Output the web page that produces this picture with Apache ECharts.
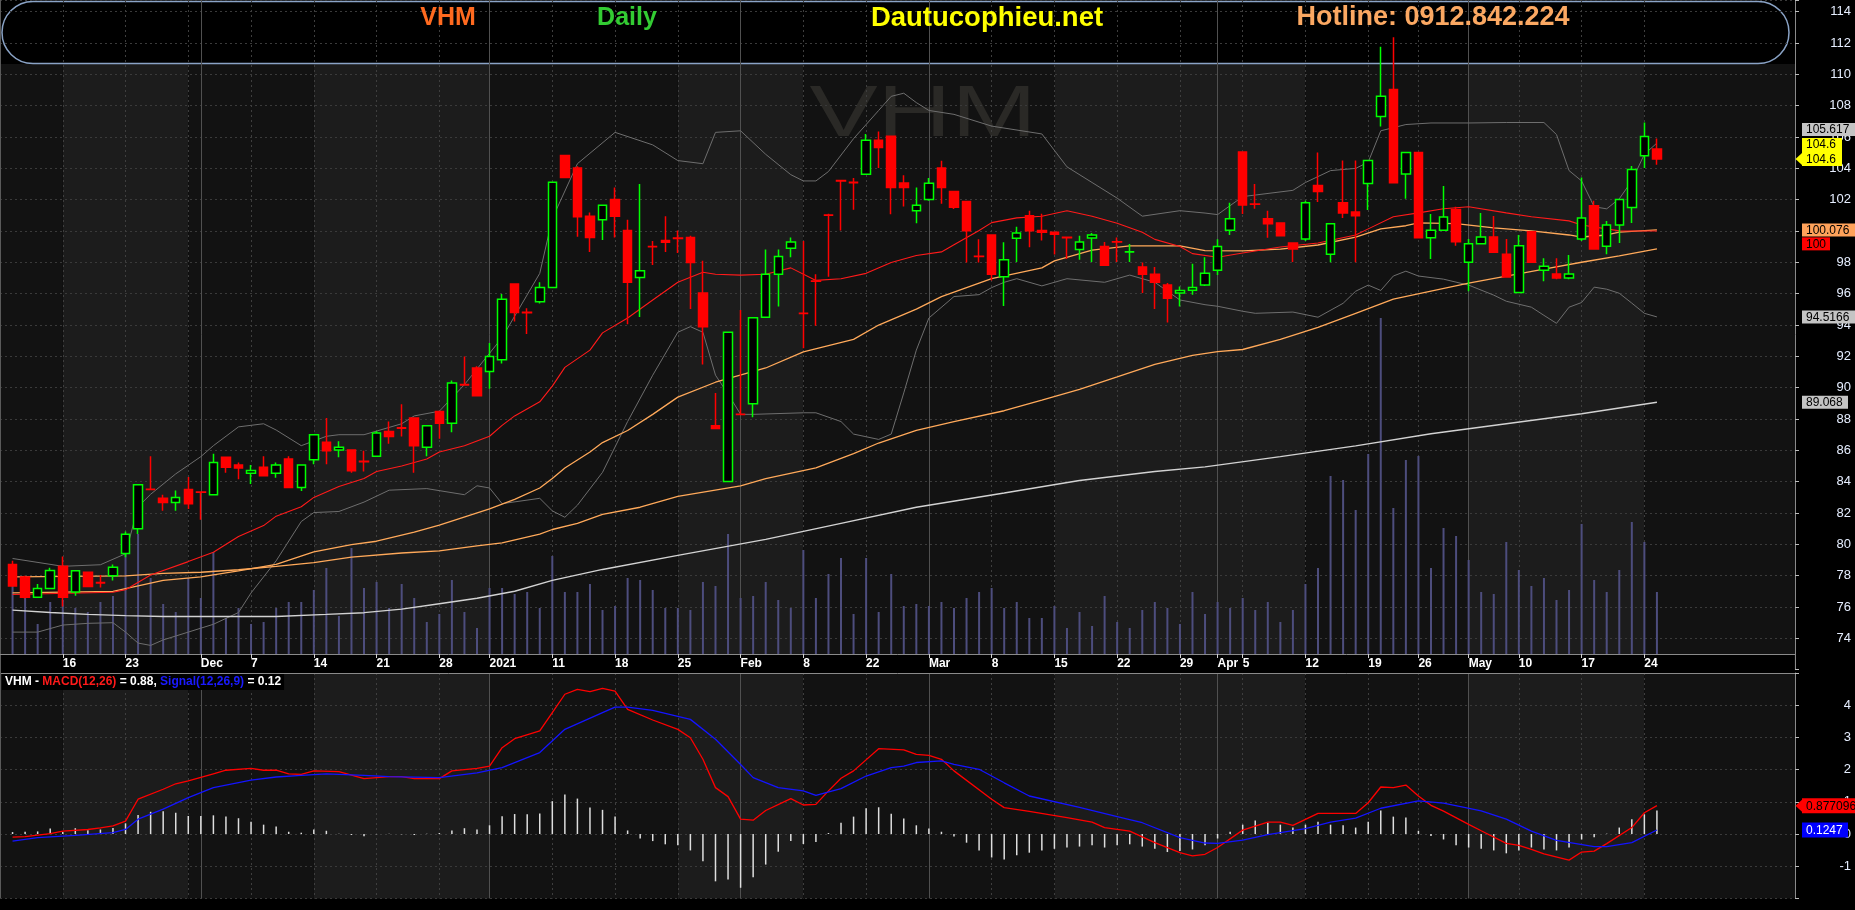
<!DOCTYPE html>
<html><head><meta charset="utf-8">
<script src="https://cdn.jsdelivr.net/npm/echarts@6/dist/echarts.min.js"></script>
<style>html,body{margin:0;padding:0;background:#000;}#c{width:1855px;height:910px;}</style>
</head><body><div id="c"></div>
<script>
// ---------- categories (trading days) ----------
const tradingDays = [
  ['2020-11', [10,11,12,13,16,17,18,19,20,23,24,25,26,27,30]],
  ['2020-12', [1,2,3,4,7,8,9,10,11,14,15,16,17,18,21,22,23,24,25,28,29,30,31]],
  ['2021-01', [4,5,6,7,8,11,12,13,14,15,18,19,20,21,22,25,26,27,28,29]],
  ['2021-02', [1,2,3,4,5,8,9,17,18,19,22,23,24,25,26]],
  ['2021-03', [1,2,3,4,5,8,9,10,11,12,15,16,17,18,19,22,23,24,25,26,29,30,31]],
  ['2021-04', [1,2,5,6,7,8,9,12,13,14,15,16,19,20,22,23,26,27,28,29]],
  ['2021-05', [4,5,6,7,10,11,12,13,14,17,18,19,20,21,24,25]]
];
// ---------- OHLC [open, close, low, high] ----------
const ohlc = [
[78.72,77.35,77.3,78.95],[77.92,76.62,76.55,78.0],[76.62,77.19,76.62,77.47],[77.19,78.33,77.19,78.5],[78.61,76.62,76.03,79.22],
[76.96,78.31,76.72,78.31],[78.22,77.31,77.31,78.22],[77.56,77.54,77.24,78.04],[77.99,78.54,77.7,78.72],[79.41,80.64,79.18,80.82],
[81.0,83.81,80.66,83.81],[83.52,83.5,83.5,85.63],[82.94,82.67,82.14,83.17],[82.67,82.99,82.14,83.44],[83.51,82.6,82.26,84.3],
[83.34,83.32,81.57,83.34],[83.17,85.22,83.17,85.79],[85.56,84.92,84.58,85.56],[85.06,84.88,84.15,85.22],[84.54,84.72,83.85,85.06],
[84.92,84.38,84.38,85.63],[84.54,85.06,84.26,85.22],[85.45,83.63,83.63,85.63],[83.63,85.06,83.4,85.06],[85.4,87.0,85.11,87.0],
[86.52,85.97,85.11,88.07],[86.02,86.2,85.56,86.59],[86.02,84.7,84.58,86.02],[85.3,85.28,84.65,85.97],[85.63,87.11,85.63,87.23],
[87.2,86.89,86.43,87.85],[87.44,87.42,86.89,88.94],[88.07,86.29,84.58,88.07],[86.2,87.57,85.63,87.57],[88.48,87.73,86.75,88.48],
[87.73,90.3,87.16,90.46],[90.2,90.18,90.18,91.99],[91.26,89.48,89.48,91.37],[91.03,91.99,89.94,92.86],[91.79,95.64,91.54,95.98],
[96.62,94.8,94.23,96.62],[94.81,94.79,93.43,95.07],[95.48,96.39,95.37,96.73],[96.39,103.12,96.39,103.12],[104.83,103.42,103.42,104.83],
[104.03,100.91,99.63,104.14],[100.95,99.59,98.67,101.18],[100.73,101.64,99.43,101.64],[102.02,100.95,99.59,102.78],[100.04,96.73,94.05,100.73],
[97.03,97.46,94.52,103.0],[99.02,99.0,97.83,99.36],[99.4,99.29,98.67,100.95],[99.55,99.53,98.6,100.04],[99.59,97.99,95.03,99.7],
[96.05,93.89,91.49,98.1],[87.57,87.39,87.39,89.67],[84.01,93.54,84.01,93.54],[88.31,88.29,88.29,94.96],[88.98,94.46,88.12,94.46],
[94.5,97.24,94.5,98.83],[97.24,98.38,95.19,98.83],[98.9,99.31,98.33,99.59],[94.76,94.74,92.52,99.36],[96.81,96.79,93.95,97.24],
[101.03,101.01,97.08,101.11],[103.22,103.2,100.04,103.22],[103.11,103.09,101.36,103.39],[103.62,105.79,103.62,106.2],[105.79,105.33,104.03,106.36],
[106.06,102.78,101.07,106.06],[103.07,102.78,101.57,103.57],[101.3,101.64,100.5,102.78],[102.02,103.05,101.93,103.39],[104.03,102.78,101.75,104.49],
[102.53,101.52,101.41,102.53],[101.89,100.02,97.99,101.89],[98.39,98.37,97.99,99.47],[99.75,97.24,96.85,99.75],[97.08,98.17,95.21,99.29],
[99.54,99.88,98.03,100.27],[100.98,100.02,98.97,101.3],[100.04,99.93,99.4,101.11],[99.93,99.79,98.51,99.93],[99.6,99.58,98.22,99.6],
[98.83,99.31,98.17,99.7],[99.56,99.75,98.03,99.88],[99.01,97.81,97.81,99.31],[99.32,99.3,98.03,99.59],[98.66,98.68,98.03,99.17],
[97.7,97.24,96.05,97.99],[97.24,96.73,95.03,97.7],[96.55,95.71,94.16,96.69],[96.05,96.21,95.19,96.46],[96.23,96.39,95.94,97.92],
[96.55,97.3,96.5,98.33],[97.5,99.02,97.19,99.47],[100.06,100.78,99.75,101.8],[105.04,101.67,101.09,105.04],[101.73,101.71,101.42,103.01],
[100.78,100.47,99.57,101.29],[100.52,99.7,99.7,100.52],[99.24,98.85,98.03,99.24],[99.5,101.8,99.37,101.93],[102.91,102.52,101.85,105.01],
[98.52,100.47,98.01,100.47],[101.8,101.16,100.83,104.5],[101.21,100.98,98.01,104.5],[103.03,104.5,101.34,104.5],[107.32,108.6,106.68,111.76],
[109.04,103.09,103.09,112.37],[103.65,105.01,102.06,105.01],[105.01,99.57,99.57,105.01],[99.57,100.06,98.21,101.09],[100.06,100.9,100.06,102.88],
[101.37,99.32,99.06,101.55],[98.01,99.19,96.16,99.5],[99.19,99.62,99.19,101.16],[99.62,98.65,98.65,100.96],[98.52,97.06,97.06,99.5],
[96.08,99.06,96.08,99.75],[99.96,98.01,98.01,99.96],[97.5,97.75,96.8,98.26],[97.26,97.0,96.93,98.26],[97.0,97.26,96.93,98.47],
[99.5,100.83,99.37,103.42],[101.62,98.85,98.85,101.93],[99.03,100.39,98.52,100.65],[100.39,102.01,99.24,102.01],[101.5,103.93,100.52,104.16],
[104.8,106.04,104.03,106.93],[105.24,104.6,104.24,105.91]
];
// ---------- volume (millions) ----------
const volume = [
3.4,2.9,1.5,2.6,2.7,2.3,2.1,2.6,2.9,5.0, 6.0,3.8,2.5,2.1,3.8,2.8,5.1,1.8,2.3,1.5,
1.6,2.3,2.6,2.6,3.2,4.3,1.9,5.3,3.3,3.6, 2.3,3.5,2.8,1.6,2.0,3.7,2.1,1.3,3.3,3.3,
3.0,3.1,2.3,4.9,3.1,3.1,3.5,2.2,2.4,3.8, 3.7,3.2,2.3,2.3,2.2,3.6,3.4,6.0,2.8,2.9,
3.6,2.7,2.3,5.2,2.8,4.0,4.8,2.0,4.8,2.1, 4.0,2.4,2.5,2.4,2.6,2.3,2.8,3.1,3.3,2.3,
2.6,1.8,1.8,2.4,1.3,2.1,1.4,2.9,1.6,1.3, 2.2,2.6,2.3,1.5,3.1,2.0,2.6,2.3,2.8,2.2,
2.6,1.6,2.2,3.5,4.3,8.9,8.7,7.2,10.0,16.8, 7.3,9.7,9.9,4.3,6.3,5.9,4.7,3.1,3.0,5.6,
4.2,3.4,3.8,2.7,3.2,6.5,3.7,3.1,4.2,6.6, 5.6,3.1
];
// ---------- overlay lines [dayIndex, value] ----------
const bbUpper = [[0,79.1],[4,78.6],[7,78.7],[9,79.4],[10,82.4],[11,83.2],[13,84.5],[15,85.6],[16,86.3],[18,87.5],[20,87.7],[21,87.3],[23,86.3],[25,86.9],[26,87.0],[28,87.0],[31,87.7],[32,88.2],[34,88.5],[36,90.2],[39,93.2],[42,97.3],[43,100.8],[45,104.3],[48,106.3],[51,105.5],[53,104.5],[55,104.3],[56,106.3],[58,106.4],[60,104.9],[62,103.6],[63,103.2],[64,103.2],[65,103.8],[67,105.9],[69,107.7],[70,108.6],[71,108.8],[72,108.2],[73,107.7],[75,107.45],[78,106.7],[82,106.2],[84,104.1],[86,103.1],[88,102.1],[90,100.95],[93,101.3],[95,101.15],[96,101.05],[98,102.2],[99,102.3],[102,102.6],[103,103.1],[105,103.86],[107,104.0],[108,104.4],[109,106.4],[111,106.8],[113,106.9],[116,106.9],[119,106.93],[122,106.93],[123,106.16],[124,103.86],[125,103.2],[126,101.55],[127,101.42],[128,102.06],[129,103.2],[130,104.9],[131,105.62]];
const bbLower = [[0,74.4],[2,74.4],[4,74.85],[6,74.96],[8,75.0],[9,74.4],[10,73.7],[11,73.55],[12,73.9],[14,74.4],[16,74.9],[18,75.65],[19,76.9],[21,78.95],[23,81.46],[24,82.03],[26,82.1],[28,82.7],[30,83.46],[33,83.56],[36,83.17],[37,83.74],[38,83.6],[39,82.6],[42,82.94],[43,82.14],[44,81.73],[45,82.5],[47,84.6],[49,87.84],[51,90.8],[53,93.54],[54,93.9],[55,93.54],[56,90.8],[57,89.6],[58,88.3],[59,88.3],[63,88.4],[64,88.4],[66,87.84],[67,87.04],[69,86.7],[70,87.04],[71,89.67],[72,92.4],[73,94.45],[75,95.82],[77,95.94],[78,96.39],[79,96.73],[80,96.96],[82,96.5],[84,96.96],[87,96.73],[89,97.19],[91,96.73],[93,95.6],[95,95.3],[96,95.2],[98,94.88],[99,94.75],[102,94.83],[104,94.5],[106,95.39],[107,96.16],[108,96.55],[109,96.21],[110,97.13],[111,97.44],[112,97.13],[114,96.93],[116,96.55],[118,95.91],[119,95.52],[121,95.14],[122,94.62],[123,94.11],[124,95.14],[125,95.44],[126,96.42],[127,96.29],[128,96.03],[129,95.4],[130,94.75],[131,94.52]];
const maRed = [[0,76.8],[8,76.94],[9,77.1],[11,78.04],[14,78.9],[16,79.5],[18,80.5],[20,81.2],[21,81.8],[23,82.4],[24,83.0],[26,83.7],[28,84.2],[29,84.65],[31,85.0],[33,85.45],[34,85.9],[36,86.3],[37,86.6],[38,86.9],[39,87.6],[40,88.2],[42,89.1],[43,90.1],[44,91.3],[46,92.4],[47,93.5],[49,94.45],[51,95.6],[53,96.73],[55,97.37],[56,97.24],[58,97.19],[60,97.24],[62,97.65],[64,96.85],[66,96.96],[68,97.3],[70,97.99],[72,98.44],[74,98.67],[75,99.13],[77,100.04],[78,100.54],[80,100.84],[82,100.95],[84,101.3],[86,100.95],[88,100.5],[90,99.93],[91,99.47],[93,99.01],[94,98.56],[96,98.33],[98,98.6],[101,98.98],[104,99.24],[107,99.75],[108,100.14],[110,100.91],[112,101.16],[114,101.42],[116,101.55],[119,101.16],[121,100.91],[124,100.65],[125,100.39],[127,100.14],[128,100.01],[131,100.0]];
const maOrangeFast = [[0,76.9],[8,77.0],[12,77.7],[15,77.93],[18,78.31],[21,78.72],[24,79.52],[27,79.98],[29,80.2],[32,80.78],[34,81.23],[38,82.26],[40,82.87],[42,83.6],[43,84.2],[44,84.88],[46,85.9],[47,86.5],[49,87.27],[51,88.3],[53,89.4],[56,90.35],[60,91.26],[63,92.29],[67,93.09],[69,94.0],[72,95.02],[74,95.82],[76,96.39],[78,96.96],[82,97.65],[83,98.1],[86,98.79],[89,99.06],[93,99.06],[95,98.75],[98,98.73],[101,98.85],[104,99.11],[107,99.62],[109,100.14],[111,100.34],[112,100.52],[115,100.47],[118,100.21],[121,100.01],[124,99.75],[125,99.62],[127,99.75],[128,99.93],[131,100.08]];
const maOrangeSlow = [[0,77.92],[9,77.99],[12,78.15],[15,78.22],[18,78.38],[21,78.6],[24,78.83],[27,79.18],[31,79.45],[34,79.59],[37,79.9],[39,80.09],[42,80.66],[43,80.95],[45,81.34],[47,81.91],[50,82.37],[53,83.06],[58,83.74],[60,84.2],[64,84.88],[67,85.79],[69,86.47],[72,87.27],[75,87.84],[79,88.53],[82,89.21],[85,89.9],[88,90.69],[91,91.49],[94,92.06],[96,92.3],[98,92.44],[101,93.08],[104,93.85],[107,94.75],[110,95.65],[113,96.16],[116,96.67],[119,97.13],[122,97.57],[125,98.01],[128,98.42],[131,98.86]];
const maWhite = [[0,75.8],[3,75.65],[6,75.53],[9,75.45],[12,75.4],[21,75.4],[25,75.53],[28,75.64],[31,75.87],[34,76.21],[37,76.56],[40,77.01],[43,77.7],[47,78.4],[53,79.3],[60,80.32],[66,81.34],[72,82.37],[79,83.28],[85,84.08],[91,84.65],[95,84.95],[101,85.6],[107,86.29],[113,87.06],[119,87.7],[125,88.34],[131,89.07]];
// ---------- MACD ----------
const macdLine = [[0,-0.1],[1,-0.08],[3,0.01],[4,0.09],[6,0.14],[7,0.19],[8,0.25],[9,0.40],[10,1.08],[12,1.39],[13,1.56],[14,1.65],[16,1.87],[17,1.98],[19,2.04],[20,1.98],[21,1.98],[22,1.87],[23,1.85],[24,1.96],[26,1.94],[28,1.72],[30,1.78],[31,1.78],[32,1.72],[34,1.72],[35,1.96],[37,2.04],[38,2.11],[39,2.68],[40,2.96],[42,3.2],[43,3.77],[44,4.34],[45,4.49],[46,4.42],[47,4.52],[48,4.44],[49,3.87],[51,3.54],[53,3.25],[54,2.99],[55,2.32],[56,1.44],[57,1.16],[58,0.46],[59,0.43],[60,0.73],[62,1.10],[63,0.90],[64,0.92],[65,1.34],[66,1.73],[67,1.96],[69,2.65],[71,2.61],[72,2.47],[73,2.44],[74,2.32],[75,1.96],[78,1.08],[79,0.82],[81,0.70],[84,0.51],[86,0.37],[87,0.20],[89,0.09],[91,-0.27],[93,-0.58],[94,-0.68],[95,-0.63],[96,-0.42],[98,0.12],[100,0.37],[101,0.37],[102,0.27],[104,0.64],[106,0.64],[107,0.64],[108,0.97],[109,1.46],[110,1.44],[111,1.52],[112,1.18],[113,0.89],[114,0.71],[116,0.30],[117,0.10],[119,-0.29],[120,-0.35],[121,-0.48],[122,-0.62],[124,-0.81],[125,-0.56],[126,-0.53],[127,-0.3],[129,0.20],[130,0.66],[131,0.88]];
const signalLine = [[0,-0.22],[2,-0.11],[5,-0.04],[8,0.04],[9,0.14],[10,0.46],[12,0.77],[14,1.13],[16,1.44],[19,1.67],[21,1.77],[23,1.82],[25,1.87],[28,1.82],[30,1.78],[34,1.75],[37,1.90],[39,2.06],[42,2.53],[44,3.25],[47,3.77],[48,3.94],[49,3.94],[51,3.84],[54,3.56],[56,2.94],[58,2.16],[59,1.75],[61,1.44],[63,1.34],[64,1.20],[66,1.41],[68,1.80],[70,2.06],[71,2.11],[72,2.22],[74,2.27],[75,2.16],[77,2.01],[79,1.59],[81,1.18],[85,0.83],[88,0.54],[90,0.35],[93,-0.11],[95,-0.28],[96,-0.29],[98,-0.19],[100,-0.02],[103,0.17],[105,0.37],[107,0.49],[109,0.80],[112,1.03],[114,0.96],[117,0.72],[119,0.46],[121,0.09],[123,-0.2],[126,-0.39],[127,-0.39],[129,-0.27],[131,0.125]];
const macdHist = [
0.06,0.07,0.08,0.17,0.06,0.18,0.12,0.14,0.19,0.33, 0.59,0.69,0.71,0.66,0.56,0.56,0.58,0.54,0.49,0.38,
0.29,0.23,0.07,0.04,0.14,0.10,0.01,-0.03,-0.07,-0.01, 0.01,-0.01,-0.03,0.01,0.03,0.11,0.18,0.14,0.27,0.55,
0.62,0.61,0.64,1.02,1.23,1.10,0.82,0.75,0.54,0.11, -0.14,-0.22,-0.32,-0.35,-0.51,-0.85,-1.47,-1.41,-1.67,-1.34,
-0.95,-0.55,-0.22,-0.31,-0.25,0.03,0.35,0.54,0.80,0.83, 0.63,0.48,0.27,0.17,0.07,-0.08,-0.27,-0.51,-0.73,-0.79,
-0.66,-0.58,-0.51,-0.46,-0.42,-0.39,-0.35,-0.42,-0.35,-0.32, -0.39,-0.46,-0.56,-0.53,-0.48,-0.35,-0.14,0.07,0.29,0.42,
0.35,0.29,0.20,0.29,0.38,0.29,0.27,0.20,0.38,0.73, 0.54,0.51,0.10,-0.06,-0.17,-0.35,-0.42,-0.46,-0.51,-0.60,
-0.51,-0.42,-0.48,-0.51,-0.42,-0.17,-0.10,0.01,0.20,0.46, 0.61,0.73
];
// ---------- axis tick labels, grid lines, shading ----------
const tickLabels = [['2020-11-16','16'],['2020-11-23','23'],['2020-12-01','Dec'],['2020-12-07','7'],['2020-12-14','14'],['2020-12-21','21'],['2020-12-28','28'],['2021-01-04','2021'],['2021-01-11','11'],['2021-01-18','18'],['2021-01-25','25'],['2021-02-01','Feb'],['2021-02-08','8'],['2021-02-22','22'],['2021-03-01','Mar'],['2021-03-08','8'],['2021-03-15','15'],['2021-03-22','22'],['2021-03-29','29'],['2021-04-01','Apr'],['2021-04-05','5'],['2021-04-12','12'],['2021-04-19','19'],['2021-04-26','26'],['2021-05-04','May'],['2021-05-10','10'],['2021-05-17','17'],['2021-05-24','24']];
const weekStarts = ['2020-11-16','2020-11-23','2020-11-30','2020-12-07','2020-12-14','2020-12-21','2020-12-28','2021-01-11','2021-01-18','2021-01-25','2021-02-08','2021-02-22','2021-03-08','2021-03-15','2021-03-22','2021-03-29','2021-04-05','2021-04-12','2021-04-19','2021-04-26','2021-05-10','2021-05-17','2021-05-24'];
const monthStarts = ['2020-12-01','2021-01-04','2021-02-01','2021-03-01','2021-04-01','2021-05-04'];
const shadeToggles = ['2020-11-16','2020-11-30','2020-12-14','2021-01-04','2021-01-25','2021-02-08','2021-03-15','2021-04-12','2021-05-04','2021-05-24'];
const priceTags = { upper: 105.617, last: 104.6, mid: 100.076, red: 100, lower: 94.5166, white: 89.068 };
const macdTags = { macd: 0.877096, signal: 0.1247 };

// ---------- build ----------
const F = "'Liberation Sans', Arial, sans-serif";
const dates = [];
tradingDays.forEach(([m, days]) => days.forEach(d => dates.push(m + '-' + String(d).padStart(2, '0'))));
const PAD = 11;
const cats = ['start'].concat(dates);
for (let k = 0; k < PAD; k++) cats.push('pad' + k);
const ci = d => dates.indexOf(d) + 1;
const labelMap = {}; tickLabels.forEach(([d, t]) => { labelMap[ci(d)] = t; });
const monthSet = new Set(monthStarts.map(ci));
const weekSet = new Set(weekStarts.map(ci).filter(i => !monthSet.has(i)));
const shadeSet = new Set([0, cats.length - 1].concat(shadeToggles.map(ci)));
const SHADES = ['#121212', '#1c1c1c'];

const G_LEFT = -5.4, G_W = 1800.4;
const grids = [
  { left: G_LEFT, width: G_W, top: 0, height: 669.7, show: false },
  { left: G_LEFT, width: G_W, top: 0, height: 654, show: false },
  { left: G_LEFT, width: G_W, top: 673, height: 225.4, show: false }
];
function hiddenCat(gridIndex, extra) {
  return Object.assign({ type: 'category', gridIndex, data: cats, boundaryGap: false,
    axisLine: { show: false }, axisTick: { show: false }, axisLabel: { show: false }, splitLine: { show: false } }, extra);
}
function shadeAxis(g) { return hiddenCat(g, { z: 0, position: 'bottom', splitArea: { show: true, interval: i => shadeSet.has(i), areaStyle: { color: SHADES } } }); }
function weekAxis(g) { return hiddenCat(g, { z: 2, position: 'top', splitLine: { show: true, interval: i => weekSet.has(i), lineStyle: { color: '#3e3e3e', width: 1, type: [2, 3] } } }); }
function monthAxis(g, topLine) { return hiddenCat(g, { z: 2, position: 'top', axisLine: { show: !!topLine, lineStyle: { color: '#8a8a8a', width: 1 } }, splitLine: { show: true, interval: i => monthSet.has(i), lineStyle: { color: '#505050', width: 1 } } }); }

const xAxes = [
  shadeAxis(0), weekAxis(0), monthAxis(0, false),
  { type: 'category', gridIndex: 1, data: cats, boundaryGap: false, z: 10, position: 'bottom',
    axisLine: { show: true, lineStyle: { color: '#8a8a8a', width: 1 } },
    axisTick: { show: true, interval: i => labelMap[i] !== undefined, length: 4, lineStyle: { color: '#d0d0d0' } },
    axisLabel: { show: true, interval: i => labelMap[i] !== undefined, formatter: (v, i) => labelMap[i] || '', align: 'left',
      color: '#ffffff', fontWeight: 'bold', fontSize: 12, fontFamily: F, margin: 4 },
    splitLine: { show: false } },
  shadeAxis(2), weekAxis(2), monthAxis(2, true)
];
const axisLab = { color: '#e6eeff', fontSize: 13, fontFamily: F, align: 'right', margin: 56 };
const yAxes = [
  { type: 'value', gridIndex: 0, position: 'right', min: 72, max: 114.75, interval: 2, z: 2,
    axisLine: { show: true, lineStyle: { color: '#8a8a8a' } }, axisTick: { show: true, length: 4, lineStyle: { color: '#bdbdbd' } },
    axisLabel: Object.assign({}, axisLab, { formatter: v => (v >= 74 && v <= 114 && Math.abs(v % 2) < 1e-6) ? String(v) : '' }),
    splitLine: { show: true, lineStyle: { color: '#3a3a3a', type: [2, 3] } } },
  { type: 'value', gridIndex: 1, min: 0, max: 32.7, show: false },
  { type: 'value', gridIndex: 2, position: 'right', min: -2, max: 5, interval: 1, z: 2,
    axisLine: { show: true, lineStyle: { color: '#8a8a8a' } }, axisTick: { show: true, length: 4, lineStyle: { color: '#bdbdbd' } },
    axisLabel: Object.assign({}, axisLab, { formatter: v => (v >= -1 && v <= 4) ? String(v) : '' }),
    splitLine: { show: true, lineStyle: { color: '#3a3a3a', type: [2, 3] } } }
];
const toXY = pts => pts.map(([i, v]) => [i + 1, v]);
function line(name, pts, color, width, xi, yi, z) {
  return { type: 'line', name, xAxisIndex: xi, yAxisIndex: yi, data: toXY(pts), symbol: 'none', showSymbol: false,
    lineStyle: { color, width }, z: z || 4, silent: true };
}
const series = [
  { type: 'bar', name: 'Volume', xAxisIndex: 3, yAxisIndex: 1, data: volume.map((v, i) => [i + 1, v]), barWidth: 2,
    itemStyle: { color: '#4d4d7d' }, z: 3, silent: true },
  line('BB upper', bbUpper, '#6e6e6e', 1, 0, 0),
  line('BB lower', bbLower, '#6e6e6e', 1, 0, 0),
  line('MA white', maWhite, '#d2d2d2', 1.4, 0, 0),
  line('MA slow', maOrangeSlow, '#ffa95a', 1.3, 0, 0),
  line('MA fast', maOrangeFast, '#ffa95a', 1.3, 0, 0),
  line('MA red', maRed, '#ff1a1a', 1.1, 0, 0),
  { type: 'candlestick', name: 'VHM', xAxisIndex: 0, yAxisIndex: 0, encode: { x: 0, y: [1, 2, 3, 4] },
    data: ohlc.map((d, i) => [i + 1, d[0], d[1], d[2], d[3]]), barWidth: 9, clip: false, z: 5,
    itemStyle: { color: '#000000', color0: '#ff0000', borderColor: '#00ff00', borderColor0: '#ff0000', borderWidth: 1.5 } },
  { type: 'bar', name: 'Hist', xAxisIndex: 4, yAxisIndex: 2, data: macdHist.map((v, i) => [i + 1, v]), barWidth: 1.5,
    itemStyle: { color: '#dedede' }, z: 3, silent: true },
  line('MACD', macdLine, '#ff0000', 1.3, 4, 2),
  line('Signal', signalLine, '#1414ff', 1.3, 4, 2)
];

const chart = echarts.init(document.getElementById('c'), null, { renderer: 'canvas' });
chart.setOption({
  backgroundColor: '#000', animation: false,
  title: { left: 2, top: 674, backgroundColor: '#000', padding: [2, 3, 2, 3], z: 20,
    text: '{w|VHM - }{r|MACD(12,26)}{w| = 0.88, }{b|Signal(12,26,9)}{w| = 0.12}',
    textStyle: { fontSize: 12, fontFamily: F, rich: {
      w: { color: '#ffffff', fontSize: 12, fontFamily: F },
      r: { color: '#ff1a1a', fontSize: 12, fontFamily: F },
      b: { color: '#1a1aff', fontSize: 12, fontFamily: F } } } },
  grid: grids, xAxis: xAxes, yAxis: yAxes, series
});

// ---------- decorations and value tags ----------
const py = v => chart.convertToPixel({ yAxisIndex: 0 }, v);
const my = v => chart.convertToPixel({ yAxisIndex: 2 }, v);
const G = [];
G.push({ type: 'rect', id: 'bnbg', shape: { x: 0, y: 0, width: 1795, height: 64 }, style: { fill: '#000' }, z: 1, silent: true });
G.push({ type: 'rect', id: 'bnbox', shape: { x: 2, y: 1.5, width: 1787, height: 62, r: 31 }, style: { fill: '#000', stroke: '#8aa3c6', lineWidth: 1.5 }, z: 1, silent: true });
G.push({ type: 'line', id: 'leftEdge', shape: { x1: 0.5, y1: 0, x2: 0.5, y2: 898 }, style: { stroke: '#5a5a5a', lineWidth: 1 }, z: 9, silent: true });
function txt(id, x, y, text, color, size, weight, align, z, family) {
  return { type: 'text', id, x, y, z: z || 20, silent: true,
    style: { text, fill: color, fontSize: size, fontWeight: weight || 'normal', fontFamily: family || F,
      align: align || 'left', textAlign: align || 'left', verticalAlign: 'middle', textVerticalAlign: 'middle' } };
}
G.push(txt('t1', 448, 18, 'VHM', '#ff6a1f', 25, 'bold', 'center'));
G.push(txt('t2', 627, 18, 'Daily', '#33cc33', 25, 'bold', 'center'));
G.push(txt('t3', 987, 18, 'Dautucophieu.net', '#ffff00', 27.5, 'bold', 'center'));
G.push(txt('t4', 1433, 18, 'Hotline: 0912.842.224', '#fba862', 27, 'bold', 'center'));
const wm = txt('wm', 923, 116, 'VHM', '#2a2926', 72, 'normal', 'center', 1);
wm.scaleX = 1.42; G.push(wm);
G.push({ type: 'rect', id: 'strip', shape: { x: 0, y: 654.5, width: 1794.5, height: 18 }, style: { fill: '#000' }, z: 8, silent: true });

let tagN = 0;
function tag(yc, text, bg, fg, w, arrow, h) {
  h = h || 13; const id = 'tag' + (tagN++);
  G.push({ type: 'rect', id: id + 'r', shape: { x: 1802, y: yc - h / 2, width: w, height: h }, style: { fill: bg }, z: 20, silent: true });
  if (arrow) G.push({ type: 'polygon', id: id + 'a', shape: { points: [[1795.5, arrow], [1802, arrow - 6], [1802, arrow + 6]] }, style: { fill: bg }, z: 20, silent: true });
  if (text) G.push(txt(id + 't', 1806, yc + 0.5, text, fg, 12, 'normal', 'left', 21));
}
const yLast = py(priceTags.last);
tag(yLast - 7, '', '#ffff00', '#000', 40, yLast, 28);
G.push(txt('yl1', 1806, yLast - 14, String(priceTags.last), '#000', 12, 'normal', 'left', 21));
G.push(txt('yl2', 1806, yLast + 0.5, String(priceTags.last), '#000', 12, 'normal', 'left', 21));
tag(yLast - 29.5, String(priceTags.upper), '#c4c4c4', '#000', 53);
const yMid = py(priceTags.mid);
tag(yMid, String(priceTags.mid), '#ffa25a', '#000', 53);
tag(yMid + 14, String(priceTags.red), '#ff0000', '#000', 28);
tag(py(priceTags.lower), String(priceTags.lower), '#c4c4c4', '#000', 53);
tag(py(priceTags.white), String(priceTags.white), '#c4c4c4', '#000', 46);
const yM = my(macdTags.macd);
tag(yM, String(macdTags.macd), '#ff0000', '#000', 60, yM, 15);
tag(my(macdTags.signal), String(macdTags.signal), '#0000ff', '#ffffff', 46, 0, 15);
chart.setOption({ graphic: G });
</script>
</body></html>
